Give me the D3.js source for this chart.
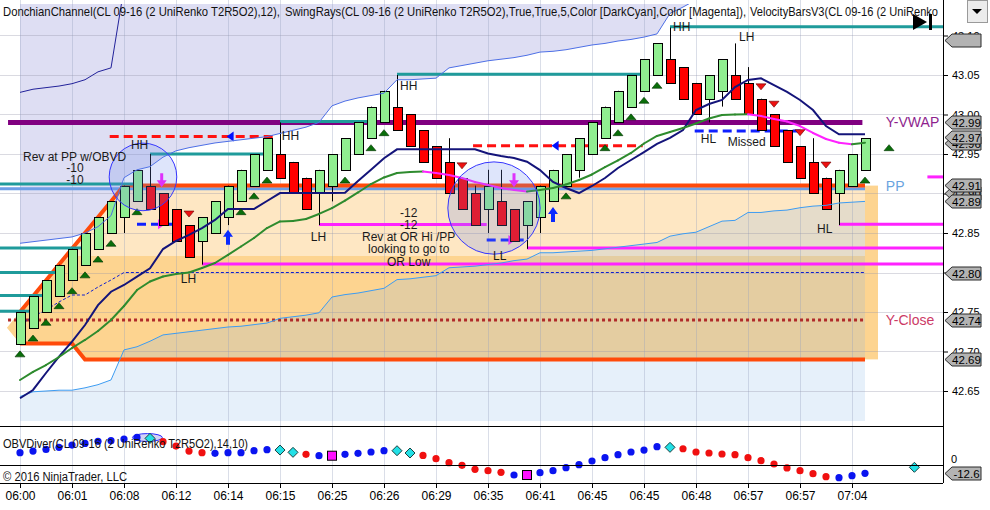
<!DOCTYPE html>
<html><head><meta charset="utf-8">
<script src="https://cdn.jsdelivr.net/npm/d3@7"></script>
<style>body{margin:0;background:#fff;}svg{display:block;font-family:"Liberation Sans",Arial,sans-serif;}</style>
</head><body><svg id="c" width="990" height="510"></svg>
<script>
// ---------- DATA ----------
const timeLabels = ["06:00","06:01","06:08","06:12","06:14","06:15","06:25","06:26","06:29","06:35","06:41","06:45","06:45","06:48","06:57","06:57","07:04"];
const openP  = [42.71,42.73,42.75,42.77,42.79,42.81,42.83,42.85,42.87,42.89,42.91,42.90,42.88,42.86,42.84,42.85,42.87,42.89,42.91,42.93,42.95,42.94,42.92,42.90,42.91,42.93,42.95,42.97,42.99,43.01,43.00,42.98,42.96,42.94,42.92,42.90,42.88,42.89,42.88,42.86,42.87,42.89,42.91,42.93,42.95,42.97,42.99,43.01,43.03,43.05,43.07,43.06,43.04,43.02,43.03,43.05,43.04,43.02,43.00,42.98,42.96,42.94,42.92,42.90,42.91,42.93];
const highP  = [42.75,42.77,42.79,42.81,42.83,42.85,42.87,42.89,42.91,42.93,42.95,42.90,42.88,42.86,42.87,42.89,42.91,42.93,42.95,42.97,42.99,42.94,42.92,42.93,42.95,42.97,42.99,43.01,43.03,43.05,43.00,42.98,42.96,42.97,42.92,42.91,42.93,42.93,42.88,42.89,42.91,42.93,42.95,42.97,42.99,43.01,43.03,43.05,43.07,43.09,43.11,43.06,43.04,43.05,43.07,43.09,43.06,43.02,43.00,42.98,42.96,42.97,42.92,42.93,42.95,42.97];
const lowP   = [42.71,42.73,42.75,42.77,42.79,42.81,42.83,42.85,42.85,42.89,42.88,42.86,42.84,42.82,42.81,42.85,42.86,42.89,42.91,42.93,42.92,42.90,42.88,42.86,42.89,42.93,42.95,42.97,42.99,42.98,42.96,42.94,42.92,42.90,42.88,42.86,42.85,42.86,42.84,42.83,42.85,42.89,42.91,42.92,42.95,42.97,42.99,43.01,43.03,43.05,43.04,43.02,43.00,42.99,43.01,43.02,43.00,42.98,42.96,42.94,42.92,42.90,42.88,42.86,42.91,42.93];
const closeP = [42.75,42.77,42.79,42.81,42.83,42.85,42.87,42.89,42.91,42.93,42.88,42.86,42.84,42.82,42.87,42.89,42.91,42.93,42.95,42.97,42.92,42.90,42.88,42.93,42.95,42.97,42.99,43.01,43.03,42.98,42.96,42.94,42.92,42.90,42.88,42.86,42.91,42.86,42.84,42.89,42.91,42.93,42.95,42.97,42.99,43.01,43.03,43.05,43.07,43.09,43.04,43.02,43.00,43.05,43.07,43.02,43.00,42.98,42.96,42.94,42.92,42.90,42.88,42.93,42.95,42.97];

const upperBand = [43.028,43.032,43.034,43.036,43.039,43.044,43.054,43.059,43.16];
const midBand = [42.837,42.839,42.841,42.843,42.845,42.850,42.858,42.872,42.920,42.930,42.934,42.946,42.954,42.958,42.961,42.964,42.966,42.968,42.970,42.972,42.976,42.980,42.984,42.990,43.011,43.017,43.021,43.024,43.027,43.044,43.044,43.045,43.046,43.059,43.062,43.065,43.068,43.070,43.072,43.075,43.079,43.080,43.082,43.085,43.088,43.090,43.093,43.095,43.098,43.102,43.128,43.136,43.145];
const lowerBand = [42.643,42.649,42.650,42.651,42.651,42.654,42.658,42.664,42.702,42.706,42.713,42.721,42.723,42.725,42.727,42.729,42.731,42.732,42.734,42.736,42.742,42.744,42.746,42.749,42.769,42.772,42.774,42.777,42.780,42.791,42.792,42.794,42.796,42.806,42.807,42.808,42.810,42.812,42.815,42.817,42.825,42.825,42.826,42.827,42.828,42.830,42.832,42.834,42.836,42.838,42.846,42.849,42.851,42.858,42.865,42.866,42.876,42.876,42.878,42.879,42.882,42.884,42.885,42.888,42.889,42.890];
const lowerFloor = 42.612;

const navyMA = [42.6408,42.6513,42.6728,42.6934,42.7124,42.7335,42.7587,42.7757,42.7842,42.7947,42.8053,42.8297,42.8399,42.8475,42.8563,42.8665,42.8804,42.8804,42.8804,42.8905,42.9006,42.9006,42.9006,42.9006,42.9006,42.9010,42.9158,42.9301,42.9446,42.9559,42.9559,42.9559,42.9559,42.9559,42.9559,42.9559,42.9506,42.9475,42.9449,42.9403,42.9297,42.9146,42.9070,42.9006,42.9095,42.9196,42.9323,42.9424,42.9525,42.9627,42.9703,42.9804,43.0057,43.0133,43.0184,43.0348,43.0437,43.0458,43.0373,43.0285,43.0184,43.0057,42.9854,42.9749,42.9749,42.9749];
const trendMA = [42.6639,42.6741,42.6829,42.6930,42.7044,42.7146,42.7259,42.7399,42.7576,42.7778,42.7886,42.7949,42.7981,42.8000,42.8057,42.8120,42.8222,42.8329,42.8437,42.8563,42.8646,42.8652,42.8677,42.8741,42.8816,42.8911,42.9013,42.9120,42.9203,42.9259,42.9272,42.9278,42.9259,42.9234,42.9196,42.9146,42.9108,42.9070,42.9044,42.9025,42.9044,42.9070,42.9114,42.9171,42.9241,42.9335,42.9418,42.9513,42.9633,42.9728,42.9778,42.9829,42.9886,42.9949,42.9994,43.0000,43.0003,42.9981,42.9943,42.9911,42.9854,42.9766,42.9690,42.9643,42.9623,42.9643];

const orTip = 42.73;
const orHighSteps = [42.75,42.77,42.79,42.81,42.83,42.85,42.87,42.89,42.91];
const orLowSteps  = [42.71,42.71,42.71,42.71,42.71,42.69];
const orDarkTop = 42.821;
const dotRamp = [42.7335,42.744,42.7525,42.7627,42.7715,42.7715,42.7816,42.7905,42.80];
const yVwap = 42.99, ppLevel = 42.906, yClose = 42.74;

const tealRays = [[null,0.9,42.751],[null,1.9,42.771],[null,2.9,42.800],[null,4.9,42.831],[null,8.9,42.912],[10,18.85,42.95],[20,26.9,42.991],[29,47.9,43.051],[50,null,43.111]];
const pinkRays = [[14,null,42.8108],[23,35.9,42.8607],[39,null,42.831],[63,null,42.861],[69.8,null,42.921]];
const redDashes  = [[6.9,19.8,42.972,16.2],[34.85,47.9,42.9605,41.2]];
const blueDashes = [[9,12.08,42.861,10.85],[35.9,39,42.841,37.8],[51.9,60,42.979,null]];

const upTris = [[0,42.697],[1,42.717],[2,42.737],[3,42.758],[4,42.777],[5,42.797],[6,42.817],[7,42.837],[9,42.877],[17,42.877],[18,42.897],[19,42.917],[25,42.917],[27,42.958],[28,42.977],[42,42.897],[45,42.958],[46,42.977],[47,42.997],[48,43.018],[49,43.037],[65,42.917],[66.85,42.958]];
const downTris = [[13,42.874],[34,42.935],[57,43.035],[58,43.013],[60,42.977],[62,42.936]];
const downArrows = [[10.9,42.908],[38,42.908]];
const upArrows = [[16,42.854],[41,42.883]];
const circles = [[9.46,42.921,2.6],[36.46,42.8816,3.55]];

const notes = [
 [4.2,42.946,"Rev at PP w/OBVD"],[4.23,42.932,"-10"],[4.23,42.917,"-10"],
 [9.2,42.961,"HH"],[20.8,42.973,"HH"],[29.9,43.036,"HH"],[50.9,43.111,"HH"],
 [12.96,42.7924,"LH"],[22.96,42.845,"LH"],[55.9,43.0975,"LH"],
 [36.9,42.8215,"LL"],[52.96,42.969,"HL"],[61.9,42.855,"HL"],[55.9,42.9646,"Missed"],
 [29.9,42.875,"-12"],[29.9,42.860,"-12"],[29.9,42.845,"Rev at OR Hi /PP"],[29.9,42.830,"looking to go to"],[29.9,42.8135,"OR Low"]
];
const sideLabels = [[42.99,"Y-VWAP","#8e1f8e"],[42.91,"PP","#6aa4e0"],[42.74,"Y-Close","#cc3a66"]];
const priceTicks = [42.65,42.70,42.75,42.80,42.85,42.90,42.95,43.00,43.05,43.10];
const hiddenTickText = [42.80,42.90];
const axisMarks = [[43.094,""],[42.99,"42.99"],[42.964,"42.96"],[42.972,"42.97"],[42.9006,"42.90"],[42.911,"42.91"],[42.89,"42.89"],[42.80,"42.80"],[42.74,"42.74"],[42.69,"42.69"]];

const obvValues = [18.7,21.2,23.7,26.8,30.3,32.8,35.9,36.9,39.4,41.9,40.4,35.4,28.8,21.2,18.7,17.7,18.7,18.7,21.7,23.2,22.7,19.2,16.2,14.1,14.1,16.2,17.7,19.7,21.7,21.7,18.2,14.6,9.6,3.5,-0.5,-6.6,-8.6,-11.1,-15.2,-15.2,-11.6,-8.6,-4.0,0.5,6.1,11.1,15.7,19.7,22.7,27.8,26.8,24.7,19.7,18.2,16.7,15.7,11.1,6.6,1.5,-4.5,-8.6,-13.1,-17.7,-19.2,-16.2,-12.6];
const obvTypes = "bbbbbbbbbbcrrrrbbbbbccrbmbbbbccrrrrrrrbmbbbbbbbbbbcrrrrrrrrrrrrbbb";
const obvExtra = [68.8,-3.5];
const obvHalo = [9.8,41.7,1.15,6];
const titleParts = ["DonchianChannel(CL 09-16 (2 UniRenko T2R5O2),12),", "SwingRays(CL 09-16 (2 UniRenko T2R5O2),True,True,5,Color [DarkCyan],Color [Magenta]),", "VelocityBarsV3(CL 09-16 (2 UniRenko"];
const obvTitle = "OBVDiver(CL 09-16 (2 UniRenko T2R5O2),14,10)";
const copyright = "\u00a9 2016 NinjaTrader, LLC";

// ---------- LAYOUT ----------
const PR = 943, PT = 4, PB = 426, OB = 483;
const x = d3.scaleLinear().domain([0,64]).range([20,852]);
const y = d3.scaleLinear().domain([42.65,43.05]).range([391,75]);
const yo = d3.scaleLinear().domain([0,-12.6]).range([465,473.3]);
const bw = (x(1)-x(0));

const svg = d3.select("#c");
const defs = svg.append("defs");
defs.append("clipPath").attr("id","cp").append("rect").attr("x",0).attr("y",PT).attr("width",PR).attr("height",PB-PT);
defs.append("clipPath").attr("id","co").append("rect").attr("x",0).attr("y",PB).attr("width",PR).attr("height",OB-PB);

const g = svg.append("g").attr("clip-path","url(#cp)");
const n = closeP.length;
const bars = d3.range(n);

// fills
g.append("path").datum(midBand).attr("fill","rgba(186,186,230,0.48)")
 .attr("d", d3.area().x((d,i)=>x(i)).y0(PT).y1(d=>y(d)));
const orPts = [[-1,orTip,orTip]].concat(bars.map(i=>[i,orHighSteps[Math.min(i,orHighSteps.length-1)],orLowSteps[Math.min(i,orLowSteps.length-1)]]));
g.append("path").datum(orPts).attr("fill","#fee7c3")
 .attr("d", d3.area().x(d=>x(d[0])).y0(d=>y(d[2])).y1(d=>y(d[1])));
g.append("path").datum(orPts).attr("fill","#fdd490")
 .attr("d", d3.area().x(d=>x(d[0])).y0(d=>y(d[2])).y1(d=>y(Math.min(d[1],orDarkTop))));
const orEnd = orPts[orPts.length-1];
g.append("rect").attr("x",x(n-1)).attr("width",bw).attr("y",y(orEnd[1])).attr("height",y(orEnd[2])-y(orEnd[1])).attr("fill","#fdd490");
g.append("path").datum(lowerBand).attr("fill","rgba(130,180,232,0.2)")
 .attr("d", d3.area().x((d,i)=>x(i)).y0(y(lowerFloor)).y1(d=>y(d)));

// grid
const labelBars = timeLabels.map((t,i)=>i*4);
svg.append("g").selectAll("line").data(labelBars).join("line")
 .attr("x1",d=>x(d)+0.5).attr("x2",d=>x(d)+0.5).attr("y1",0).attr("y2",OB)
 .attr("stroke","rgba(150,160,190,0.35)").attr("stroke-width",1);
svg.append("g").selectAll("line").data(priceTicks).join("line")
 .attr("x1",0).attr("x2",PR).attr("y1",d=>Math.round(y(d))+0.5).attr("y2",d=>Math.round(y(d))+0.5)
 .attr("stroke","rgba(150,150,170,0.35)").attr("stroke-width",1);

const gL = svg.append("g").attr("clip-path","url(#cp)");
function hline(p, b0, b1, col, w, dash){
  const l = gL.append("line").attr("x1", b0===null?0:x(b0)).attr("x2", b1===null?PR:x(b1))
    .attr("y1",y(p)).attr("y2",y(p)).attr("stroke",col).attr("stroke-width",w);
  if(dash) l.attr("stroke-dasharray",dash);
  return l;
}
hline(yVwap,-0.92,64.8,"#800080",5);
hline(ppLevel,null,n-1,"#6d9ee6",3);
const lineGen = d3.line().x(d=>x(d[0])).y(d=>y(d[1]));
gL.append("path").datum(orPts.slice(1).map(d=>[d[0],d[1]])).attr("d",lineGen).attr("fill","none").attr("stroke","#ff4a0a").attr("stroke-width",4);
gL.append("path").datum(orPts.slice(1).map(d=>[d[0],d[2]])).attr("d",lineGen).attr("fill","none").attr("stroke","#ff4a0a").attr("stroke-width",4);
hline(yClose,-0.92,n-1,"#b02a2a",3,"3,3");
gL.append("path").datum(dotRamp.map((v,i)=>[i,v]).concat([[n-1,dotRamp[dotRamp.length-1]]])).attr("d",lineGen)
 .attr("fill","none").attr("stroke","#1020d0").attr("stroke-width",1).attr("stroke-dasharray","3,2");

// swing rays
tealRays.forEach(r=>hline(r[2],r[0],r[1],"#1f9b9b",3));
pinkRays.forEach(r=>hline(r[2],r[0],r[1],"#ff22ff",3));
redDashes.forEach(r=>{
  hline(r[2],r[0],r[1],"#ff1010",3,"9,5");
  if(r[3]!==null){const cx=x(r[3]),cy=y(r[2]);
   gL.append("path").attr("d",`M${cx-4},${cy}L${cx+3},${cy-5}L${cx+3},${cy+5}Z`).attr("fill","#0010ff");}
});
blueDashes.forEach(r=>{
  hline(r[2],r[0],r[1],"#1020ff",3,"9,5");
  if(r[3]!==null){const cx=x(r[3]),cy=y(r[2]);
   gL.append("path").attr("d",`M${cx+4},${cy}L${cx-3},${cy-5}L${cx-3},${cy+5}Z`).attr("fill","#ff22ff");}
});

// candles
const gC = svg.append("g").attr("clip-path","url(#cp)");
gC.selectAll("line.w").data(bars).join("line").attr("class","w")
 .attr("x1",i=>Math.round(x(i))+0.5).attr("x2",i=>Math.round(x(i))+0.5)
 .attr("y1",i=>y(highP[i])).attr("y2",i=>y(lowP[i])).attr("stroke","#000").attr("stroke-width",1);
gC.selectAll("rect.b").data(bars).join("rect").attr("class","b")
 .attr("x",i=>Math.round(x(i))-4+0.5).attr("width",9)
 .attr("y",i=>Math.round(y(Math.max(openP[i],closeP[i])))+0.5)
 .attr("height",i=>Math.round(y(Math.min(openP[i],closeP[i])))-Math.round(y(Math.max(openP[i],closeP[i]))))
 .attr("fill",i=>closeP[i]>=openP[i]?"#90ee90":"#ff0000").attr("stroke","#000").attr("stroke-width",1);

// bands & MAs
const gM = svg.append("g").attr("clip-path","url(#cp)");
const idxLine = d3.line().x((d,i)=>x(i)).y(d=>y(d));
gM.append("path").datum(upperBand).attr("d",idxLine).attr("fill","none").attr("stroke","#22229a").attr("stroke-width",1);
gM.append("path").datum(midBand).attr("d",idxLine).attr("fill","none").attr("stroke","#4d6fe6").attr("stroke-width",1);
gM.append("path").datum(lowerBand).attr("d",idxLine).attr("fill","none").attr("stroke","#3d9cf2").attr("stroke-width",1);
gM.append("path").datum(navyMA).attr("d",idxLine).attr("fill","none").attr("stroke","#14147a").attr("stroke-width",2);
for(let i=0;i<n-1;i++){
  gM.append("line").attr("x1",x(i)).attr("x2",x(i+1)).attr("y1",y(trendMA[i])).attr("y2",y(trendMA[i+1]))
   .attr("stroke", trendMA[i+1]<trendMA[i]?"#ff22ff":"#2e8b2e").attr("stroke-width",2).attr("stroke-linecap","round");
}

// triangles and arrows
gM.selectAll("path.ut").data(upTris).join("path").attr("class","ut")
 .attr("d",d=>{const cx=x(d[0]),cy=y(d[1]);return `M${cx-5},${cy+3}L${cx+5},${cy+3}L${cx},${cy-3}Z`;})
 .attr("fill","#0a6e0a").attr("stroke","#003300").attr("stroke-width",0.6);
gM.selectAll("path.dt").data(downTris).join("path").attr("class","dt")
 .attr("d",d=>{const cx=x(d[0]),cy=y(d[1]);return `M${cx-5},${cy-3}L${cx+5},${cy-3}L${cx},${cy+3}Z`;})
 .attr("fill","#ee1111").attr("stroke","#660000").attr("stroke-width",0.6);
gM.selectAll("path.da").data(downArrows).join("path").attr("class","da")
 .attr("d",d=>{const cx=x(d[0]),cy=y(d[1]);return `M${cx},${cy}L${cx-5},${cy-7}L${cx-1.5},${cy-7}L${cx-1.5},${cy-14}L${cx+1.5},${cy-14}L${cx+1.5},${cy-7}L${cx+5},${cy-7}Z`;})
 .attr("fill","#ff1aff");
gM.selectAll("path.ua").data(upArrows).join("path").attr("class","ua")
 .attr("d",d=>{const cx=x(d[0]),cy=y(d[1]);return `M${cx},${cy}L${cx-5},${cy+7}L${cx-2},${cy+7}L${cx-2},${cy+15}L${cx+2},${cy+15}L${cx+2},${cy+7}L${cx+5},${cy+7}Z`;})
 .attr("fill","#0a2aff");

// circles
gM.selectAll("circle.h").data(circles).join("circle").attr("class","h")
 .attr("cx",d=>x(d[0])).attr("cy",d=>y(d[1])).attr("r",d=>x(d[2])-x(0))
 .attr("fill","rgba(105,135,235,0.22)").attr("stroke","#3636ff").attr("stroke-width",1);

// notes
const gT = svg.append("g").attr("font-size",12).attr("fill","#1a1a1a");
gT.selectAll("text").data(notes).join("text").attr("x",d=>x(d[0])).attr("y",d=>y(d[1]))
 .attr("text-anchor","middle").attr("dominant-baseline","central").text(d=>d[2]);
svg.append("g").selectAll("text").data(sideLabels).join("text")
 .attr("x",x(66.6)).attr("y",d=>y(d[0])).attr("dominant-baseline","central")
 .attr("font-size",14).attr("fill",d=>d[2]).text(d=>d[1]);

// right axis
const ax = svg.append("g").attr("transform",`translate(${PR},0)`)
 .call(d3.axisRight(y).tickValues(priceTicks).tickSize(5).tickPadding(4)
   .tickFormat(d=>hiddenTickText.some(h=>Math.abs(h-d)<1e-6)?"":d3.format(".2f")(d)));
ax.select(".domain").remove();
ax.selectAll("text").attr("font-size",11).attr("font-family","Liberation Sans, Arial, sans-serif").attr("fill","#000");
ax.selectAll("line").attr("stroke","#000");
function grayMark(yy, txt){
  svg.append("path").attr("d",`M945,${yy}L952,${yy-6.5}L981,${yy-6.5}L981,${yy+6.5}L952,${yy+6.5}Z`)
   .attr("fill","#b3b3b3").attr("stroke","#2a2a2a").attr("stroke-width",1);
  if(txt) svg.append("text").attr("x",966.5).attr("y",yy).attr("text-anchor","middle").attr("dominant-baseline","central")
   .attr("font-size",11.5).attr("fill","#000").text(txt);
}
axisMarks.forEach(m=>grayMark(Math.round(y(m[0]))+0.5,m[1]));

// OBV panel
const gO = svg.append("g").attr("clip-path","url(#co)");
gO.append("ellipse").attr("cx",x(obvHalo[0])).attr("cy",yo(obvHalo[1])).attr("rx",x(obvHalo[2])-x(0))
 .attr("ry",yo(0)-yo(obvHalo[3])).attr("fill","rgba(180,180,240,0.6)").attr("stroke","#2a2aff");
function obvMark(b,v,t){
  const cx=x(b),cy=yo(v);
  if(t==="b"||t==="r") gO.append("circle").attr("cx",cx).attr("cy",cy).attr("r",3.6).attr("fill",t==="b"?"#0a14f0":"#f01010");
  else if(t==="c") gO.append("path").attr("d",`M${cx},${cy-5}L${cx+5},${cy}L${cx},${cy+5}L${cx-5},${cy}Z`).attr("fill","#22e0e6").attr("stroke","#1a4040");
  else gO.append("rect").attr("x",cx-4.5).attr("y",cy-4.5).attr("width",9).attr("height",9).attr("fill","#ff10ff").attr("stroke","#000");
}
obvValues.forEach((v,i)=>obvMark(i,v,obvTypes[i]));
obvMark(obvExtra[0],obvExtra[1],"c");
svg.append("text").attr("x",3).attr("y",448).attr("font-size",12).attr("fill","#111")
 .attr("textLength",245).attr("lengthAdjust","spacingAndGlyphs").text(obvTitle);
svg.append("text").attr("x",3).attr("y",481).attr("font-size",12).attr("fill","#111")
 .attr("textLength",124).attr("lengthAdjust","spacingAndGlyphs").text(copyright);
svg.append("text").attr("x",951).attr("y",yo(0)-2).attr("font-size",11).text("0");
grayMark(Math.round(yo(-12.6))+0.5,"-12.6");

// frame lines
[PB,yo(0),OB].forEach(v=>svg.append("line").attr("x1",0).attr("x2",PR).attr("y1",Math.round(v)+0.5).attr("y2",Math.round(v)+0.5).attr("stroke","#000"));
svg.append("line").attr("x1",PR+0.5).attr("x2",PR+0.5).attr("y1",0).attr("y2",OB).attr("stroke","#000");

// x axis
const xa = svg.append("g").attr("transform",`translate(0,${OB})`)
 .call(d3.axisBottom(x).tickValues(labelBars).tickSize(5).tickPadding(3).tickFormat((d,i)=>timeLabels[i]));
xa.select(".domain").remove();
xa.selectAll("text").attr("font-size",12).attr("font-family","Liberation Sans, Arial, sans-serif").attr("fill","#000");
xa.selectAll("line").attr("stroke","#000");

// title & widgets
const titleSpans = [[3,277],[285,461],[750,188]];
const tt = svg.append("text").attr("y",16).attr("font-size",13).attr("fill","#111");
titleParts.forEach((t,i)=>tt.append("tspan").attr("x",titleSpans[i][0]).attr("textLength",titleSpans[i][1])
 .attr("lengthAdjust","spacingAndGlyphs").text(t));
svg.append("path").attr("d","M913,14L913,30L927,22Z").attr("fill","#000");
svg.append("rect").attr("x",929).attr("y",14).attr("width",3).attr("height",16).attr("fill","#000");
svg.append("rect").attr("x",967.5).attr("y",0.5).attr("width",20).attr("height",22).attr("fill","#ececec").attr("stroke","#9a9a9a");
svg.append("path").attr("d","M972,9L982,9L977,14Z").attr("fill","#000");
</script></body></html>
